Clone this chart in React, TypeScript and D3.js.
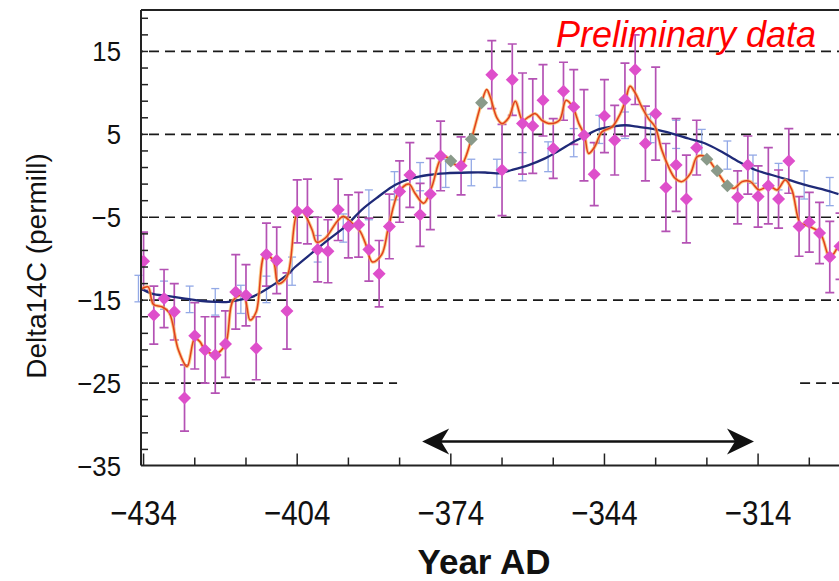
import React from 'react';
import * as d3 from 'd3';

// Measured data (magenta diamonds with error bars)
const magYears = [-434,-432,-430,-428,-426,-424,-422,-420,-418,-416,-414,-412,-410,-408,-406,-404,-402,-400,-398,-396,-394,-392,-390,-388,-386,-384,-382,-380,-378,-376,-372,-366,-364,-362,-360,-358,-356,-354,-352,-350,-348,-346,-344,-342,-340,-338,-336,-334,-332,-330,-328,-326,-318,-316,-314,-312,-310,-308,-306,-304,-302,-300,-298];
const magValues = [-10.3,-16.8,-14.8,-16.4,-26.8,-19.3,-21.0,-21.6,-20.3,-14.0,-14.4,-20.8,-9.5,-10.2,-16.3,-4.3,-4.3,-8.9,-9.1,-4.1,-6.1,-5.9,-8.9,-11.8,-6.1,-1.9,0.1,-4.7,-2.2,2.4,1.2,12.2,0.7,11.6,6.3,6.0,9.1,3.3,10.2,8.3,4.9,0.2,7.2,4.3,9.2,12.8,3.9,7.5,-1.4,1.3,-2.8,3.4,-2.6,1.3,-2.5,-1.2,-2.8,1.8,-6.1,-5.6,-6.9,-9.8,-8.5];
const magErrors = [3.5,3.5,3.5,3.4,4.0,4.0,4.0,4.6,4.0,4.5,3.7,3.8,3.8,4.0,4.6,3.8,3.9,3.9,3.8,3.7,3.8,3.9,3.8,4.0,3.9,3.7,3.9,3.8,4.3,4.2,3.5,4.1,5.5,4.3,6.1,5.7,4.3,3.6,3.5,4.5,5.5,3.8,4.4,4.2,4.4,4.2,4.5,5.6,5.3,5.6,5.3,3.3,3.2,3.5,3.7,4.6,3.5,3.9,3.6,3.6,3.7,4.3,4.0];

// Gray diamonds (no error bars)
const grayYears = [-374,-370,-368,-324,-322,-320];
const grayValues = [1.8,4.4,8.8,2.0,0.6,-1.2];

// Light-blue reference error bars (every 5 years)
const refYears = [-435,-430,-425,-420,-415,-410,-405,-400,-395,-390,-385,-380,-375,-370,-365,-360,-355,-350,-345,-340,-335,-330,-325,-320,-315,-310,-305,-300];
const refValues = [-13.6,-14.4,-14.9,-15.2,-14.9,-13.7,-11.5,-8.8,-6.3,-3.5,-1.2,-0.1,0.3,0.4,0.3,1.1,2.3,4.0,5.6,6.1,5.7,5.0,4.0,2.5,0.8,-0.1,-1.1,-1.9];
const refErrors = [1.6,1.7,1.6,1.6,1.7,1.6,1.7,1.6,1.7,1.8,1.7,1.7,1.7,1.6,1.7,1.7,1.8,1.7,1.7,1.6,1.7,1.7,1.6,1.7,1.7,1.6,1.7,1.7];

// Navy smooth curve
const blueYears = [-434.5,-432.4,-429.1,-425.9,-422.6,-420,-417.4,-414.8,-412.8,-410.9,-408.3,-405.7,-404.4,-401.1,-397.9,-394.6,-391.4,-388.1,-384.9,-381.6,-378.4,-375.1,-370.5,-367.3,-364.7,-362.1,-358.8,-355.6,-353,-349.7,-348.4,-345.2,-341.9,-339.9,-337.3,-334.1,-330.8,-327.6,-324.3,-321.1,-317.8,-314.5,-311.3,-308,-304.8,-301.5,-298.3];
const blueValues = [-13.6,-14.2,-14.5,-14.8,-15.1,-15.2,-15.2,-14.9,-14.6,-14.0,-13.0,-11.8,-11.0,-9.3,-7.7,-6.1,-4.1,-2.5,-1.1,-0.3,0.1,0.3,0.4,0.4,0.3,0.7,1.3,2.1,3.0,4.2,4.6,5.6,6.0,6.1,5.9,5.6,5.1,4.5,3.9,2.9,1.7,0.7,0.1,-0.5,-1.1,-1.6,-2.2];

// Red-orange fitted curve
const redYears = [-434.3,-433.1,-432.1,-430.4,-429,-427.2,-425.5,-424,-423,-422,-420,-418,-416.5,-414.5,-413.2,-412,-410.3,-408.7,-407.7,-406,-404,-403,-401.1,-400.2,-398.5,-396.2,-395,-393.3,-391.7,-390.7,-389.3,-387.5,-386.2,-384.2,-382.2,-381,-379.3,-377.7,-376,-375,-374,-373,-372,-371.2,-370,-368,-367,-366.3,-365,-364,-362.7,-361.4,-360,-358.8,-357.5,-356.2,-354.6,-352.8,-351.5,-350.2,-349,-347.9,-347.1,-345.9,-344.5,-342.5,-340.9,-339.9,-339,-338,-336.7,-335.4,-334.1,-332.8,-331.5,-330.2,-328.9,-327.2,-325.9,-324.3,-322,-320,-318.7,-317.1,-315.5,-313.8,-311.9,-310.3,-308.7,-307.4,-305.8,-304.8,-301.9,-300,-298.4];
const redValues = [-13.6,-13.4,-15.5,-15.8,-16.5,-21.0,-23.0,-19.6,-20.0,-21.0,-21.5,-20.3,-15.0,-14.4,-17.4,-16.4,-9.5,-10.2,-13.0,-12.2,-4.5,-4.3,-6.5,-8.0,-7.5,-5.5,-4.9,-5.7,-6.7,-8.1,-10.4,-9.5,-6.3,-2.0,-1.0,-2.1,-3.3,-1.3,2.0,2.3,1.8,1.3,1.2,2.1,4.4,8.8,10.4,9.5,7.0,6.3,7.0,9.0,6.7,7.1,7.5,6.7,6.3,6.7,9.1,8.3,6.3,4.9,2.7,3.5,5.3,5.9,7.5,9.1,10.8,10.0,8.3,6.9,5.9,3.1,1.1,-0.3,-0.7,0.3,2.3,2.3,0.5,-1.2,-1.5,-0.7,-0.7,-1.7,-1.2,-1.7,-0.5,-1.7,-5.7,-5.9,-6.9,-9.8,-8.5];

const yTickLabels = [15, 5, -5, -15, -25, -35];
const xTickLabels = [-434, -404, -374, -344, -314];
const gridFull = [15, 5, -5, -15];
const gridBroken = -25;
const gridBrokenGap = [-384.5, -305.8];
const arrowSpan = [-379.6, -314.8];

const W = 839, H = 581;
const FONT = '"Liberation Sans", Arial, Helvetica, sans-serif';
const minus = (v: number) => (v < 0 ? '\u2212' + Math.abs(v) : String(v));

export default function App() {
  const x = d3.scaleLinear().domain([-434.5, -298.2]).range([141, 839]);
  const y = d3.scaleLinear().domain([-35, 20]).range([466, 10]);

  const blueLine = d3.line<number>()
    .x((_, i) => x(blueYears[i]))
    .y((d) => y(d))
    .curve(d3.curveCatmullRom.alpha(0.5));
  const redLine = d3.line<number>()
    .x((_, i) => x(redYears[i]))
    .y((d) => y(d))
    .curve(d3.curveCatmullRom.alpha(0.5));

  const diamond = (cx: number, cy: number, r: number) =>
    `M${cx},${cy - r}L${cx + r},${cy}L${cx},${cy + r}L${cx - r},${cy}Z`;

  const minorY = d3.range(-33, 20, 2);
  const xTicks = d3.range(-434, -298, 10);
  const left = 141, top = 10, bottom = 465.5;
  const ay = 441.5;
  const ax0 = x(arrowSpan[0]), ax1 = x(arrowSpan[1]);

  return (
    <div style={{ position: 'absolute', left: 0, top: 0 }}>
      <svg width={W} height={H} style={{ display: 'block', background: '#fff' }}>
        <defs>
          <clipPath id="plot">
            <rect x={left} y={top} width={W - left} height={bottom - top} />
          </clipPath>
        </defs>
        {/* dashed grid */}
        {gridFull.map((v) => (
          <line key={v} x1={left} x2={W} y1={y(v)} y2={y(v)} stroke="#1a1a1a" strokeWidth={1.7} strokeDasharray="10,6" strokeDashoffset={-8} />
        ))}
        <line x1={left} x2={x(gridBrokenGap[0])} y1={y(gridBroken)} y2={y(gridBroken)} stroke="#1a1a1a" strokeWidth={1.7} strokeDasharray="10,6" strokeDashoffset={-8} />
        <line x1={x(gridBrokenGap[1])} x2={W} y1={y(gridBroken)} y2={y(gridBroken)} stroke="#1a1a1a" strokeWidth={1.7} strokeDasharray="10,6" />

        <g>
          {/* light-blue reference error bars */}
          {refYears.map((yr, i) => {
            const cx = x(yr);
            const y1 = y(refValues[i] + refErrors[i]);
            const y2 = y(refValues[i] - refErrors[i]);
            return (
              <g key={'r' + i} stroke="#93a9e6" strokeWidth={1.3}>
                <line x1={cx} x2={cx} y1={y1} y2={y2} />
                <line x1={cx - 4} x2={cx + 4} y1={y1} y2={y1} />
                <line x1={cx - 4} x2={cx + 4} y1={y2} y2={y2} />
              </g>
            );
          })}
        </g>
        <g clipPath="url(#plot)">
          {/* magenta error bars */}
          {magYears.map((yr, i) => {
            const cx = x(yr);
            const y1 = y(magValues[i] + magErrors[i]);
            const y2 = y(magValues[i] - magErrors[i]);
            return (
              <g key={'m' + i} stroke="#b452b4" strokeWidth={1.7}>
                <line x1={cx} x2={cx} y1={y1} y2={y2} />
                <line x1={cx - 4.5} x2={cx + 4.5} y1={y1} y2={y1} />
                <line x1={cx - 4.5} x2={cx + 4.5} y1={y2} y2={y2} />
              </g>
            );
          })}
          <path d={blueLine(blueValues) || ''} fill="none" stroke="#1f2a78" strokeWidth={2.3} />
          <path d={redLine(redValues) || ''} fill="none" stroke="#f6b45a" strokeWidth={3.4} opacity={0.7} />
          <path d={redLine(redValues) || ''} fill="none" stroke="#e2401c" strokeWidth={1.5} />
          {grayYears.map((yr, i) => (
            <path key={'g' + i} d={diamond(x(yr), y(grayValues[i]), 6.5)} fill="#8a9a8a" />
          ))}
          {magYears.map((yr, i) => (
            <path key={'d' + i} d={diamond(x(yr), y(magValues[i]), 6.5)} fill="#de4fcb" />
          ))}
        </g>

        {/* frame */}
        <line x1={left} x2={left} y1={top} y2={bottom} stroke="#222" strokeWidth={2} />
        <line x1={left} x2={W} y1={top} y2={top} stroke="#222" strokeWidth={2} />
        <line x1={left} x2={W} y1={bottom} y2={bottom} stroke="#222" strokeWidth={2} />
        {minorY.map((v) => (
          <line key={'yt' + v} x1={left} x2={left + 7} y1={y(v)} y2={y(v)} stroke="#222" strokeWidth={1.5} />
        ))}
        {xTicks.map((t) => {
          const major = xTickLabels.includes(t);
          return (
            <line key={'xt' + t} x1={x(t)} x2={x(t)} y1={bottom} y2={bottom - (major ? 12 : 8)} stroke="#222" strokeWidth={1.5} />
          );
        })}

        {/* y tick labels */}
        {yTickLabels.map((v) => (
          <text key={'yl' + v} x={121} y={y(v) + 10} textAnchor="end" fontFamily={FONT} fontSize={28} fill="#111" transform={`translate(${121 * 0.08},0) scale(0.92,1)`}>
            {minus(v)}
          </text>
        ))}
        {/* x tick labels */}
        {xTickLabels.map((v) => (
          <text key={'xl' + v} transform={`translate(${x(v)},525) scale(0.82,1)`} textAnchor="middle" fontFamily={FONT} fontSize={36} fill="#111">
            {minus(v)}
          </text>
        ))}

        <text transform="translate(46,266) rotate(-90)" textAnchor="middle" fontFamily={FONT} fontSize={28} fill="#111">
          Delta14C (permill)
        </text>
        <text x={484} y={574} textAnchor="middle" fontFamily={FONT} fontSize={35} fontWeight="bold" fill="#111">
          Year AD
        </text>
        <text x={556} y={47} fontFamily={FONT} fontSize={36} fontStyle="italic" fill="#ff0000">
          Preliminary data
        </text>

        {/* double arrow */}
        <line x1={ax0 + 12} x2={ax1 - 12} y1={ay} y2={ay} stroke="#111" strokeWidth={2.6} />
        <path d={`M${ax0},${ay}L${ax0 + 27},${ay - 13}L${ax0 + 19},${ay}L${ax0 + 27},${ay + 13}Z`} fill="#111" />
        <path d={`M${ax1},${ay}L${ax1 - 27},${ay - 13}L${ax1 - 19},${ay}L${ax1 - 27},${ay + 13}Z`} fill="#111" />
      </svg>
    </div>
  );
}
